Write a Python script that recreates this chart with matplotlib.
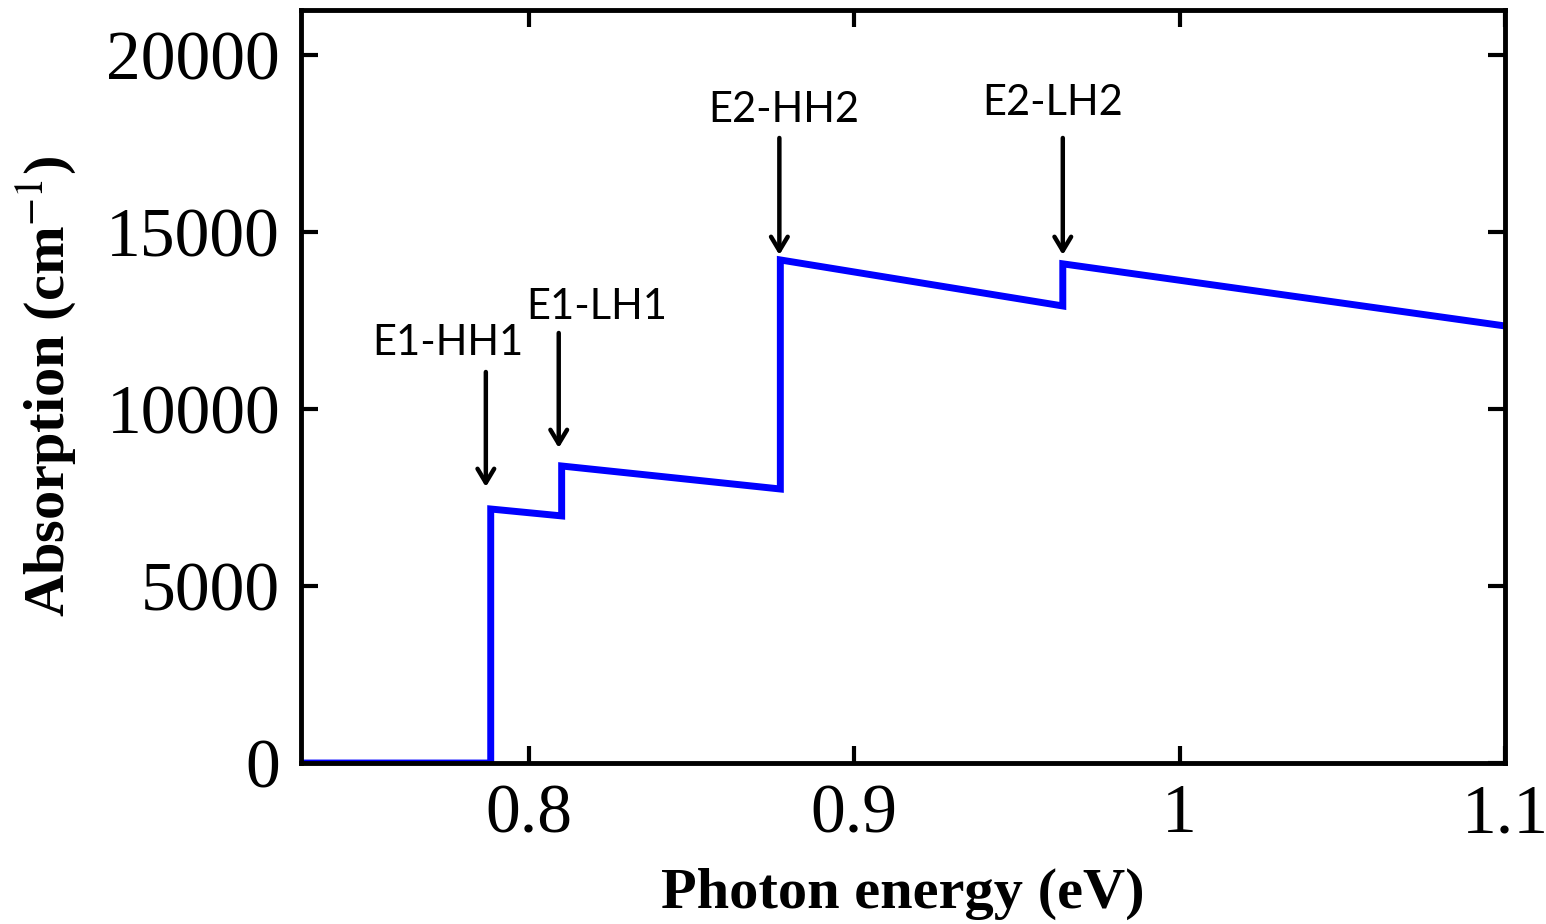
import matplotlib
matplotlib.use("Agg")
from matplotlib import pyplot as plt

# absorption spectrum (piecewise)
energy = [0.73, 0.7883, 0.7883, 0.8101, 0.8101, 0.8773, 0.8773, 0.9641, 0.9641, 1.10]
absorp = [0, 0, 7175, 6980, 8390, 7740, 14210, 12910, 14100, 12345]

# transition labels: text position, arrow tail, arrow tip
labels = ["E1-HH1", "E1-LH1", "E2-HH2", "E2-LH2"]
label_x = [0.7752, 0.8209, 0.8782, 0.9610]
label_y = [11864, 12881, 18446, 18644]
arrow_x = [0.7868, 0.8092, 0.8770, 0.9641]
arrow_top = [11045, 12147, 17655, 17655]
arrow_tip = [7797, 8898, 14350, 14350]

xticks = [0.8, 0.9, 1.0, 1.1]
xticklabels = ["0.8", "0.9", "1", "1.1"]
yticks = [0, 5000, 10000, 15000, 20000]

plt.rcParams['font.family'] = ['Liberation Serif', 'DejaVu Serif']
plt.rcParams['mathtext.fontset'] = 'stix'

fig = plt.figure(figsize=(15.46, 9.24), dpi=100)
ax = fig.add_axes([0.1947, 0.1742, 0.7788, 0.815])

ax.plot(energy, absorp, color="#0000ff", linewidth=5, solid_joinstyle="miter")

for i in range(len(labels)):
    ax.annotate("", xy=(arrow_x[i], arrow_tip[i]), xytext=(arrow_x[i], arrow_top[i]),
                arrowprops=dict(arrowstyle="->,head_length=1.0,head_width=0.6",
                                color="k", lw=3.2, shrinkA=0, shrinkB=0))
    ax.text(label_x[i], label_y[i], labels[i], ha="center", va="center",
            fontsize=30, family=["Lato", "DejaVu Sans"])

ax.set_xlim(0.73, 1.1)
ax.set_ylim(0, 21270)
ax.set_xticks(xticks)
ax.set_xticklabels(xticklabels)
ax.set_yticks(yticks)
ax.tick_params(direction="in", length=12, width=3, labelsize=50,
               top=True, right=True, pad=15)
for s in ax.spines.values():
    s.set_linewidth(3.5)

ax.set_xlabel("Photon energy (eV)", fontsize=42, fontweight="bold", labelpad=15)
ax.set_ylabel(r"Absorption (cm$^{-1}$)", fontsize=42, fontweight="bold", labelpad=20)

fig.savefig("out.png", dpi=100)
